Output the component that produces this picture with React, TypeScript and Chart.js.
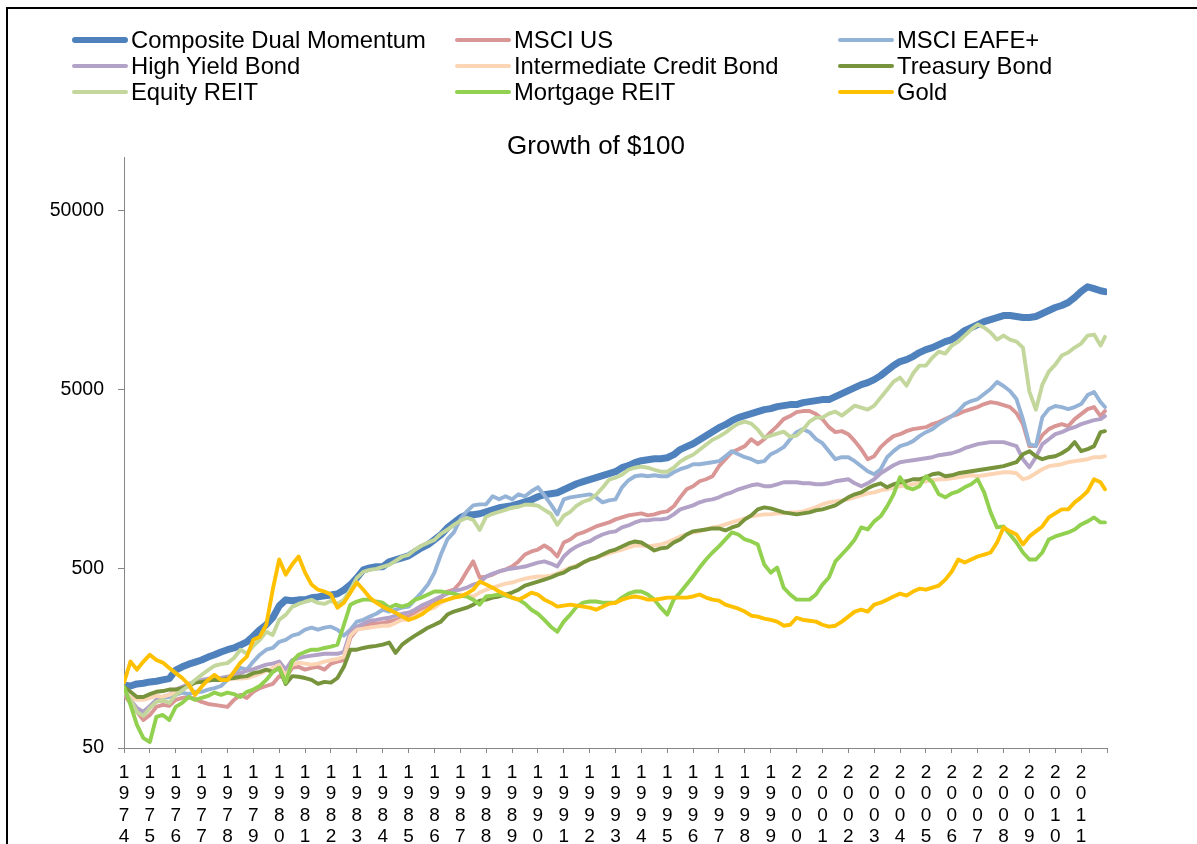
import React, { useEffect, useRef } from 'react';
import { Chart, registerables } from 'chart.js';

Chart.register(...registerables);

// ---- categories / ticks ----
const YEARS = [
  1974, 1975, 1976, 1977, 1978, 1979, 1980, 1981, 1982, 1983, 1984, 1985, 1986,
  1987, 1988, 1989, 1990, 1991, 1992, 1993, 1994, 1995, 1996, 1997, 1998, 1999,
  2000, 2001, 2002, 2003, 2004, 2005, 2006, 2007, 2008, 2009, 2010, 2011,
];
const QUARTERS = [0, 0.25, 0.5, 0.75];
const FINAL_MONTH = 2011.92;
const DATES: number[] = [...YEARS.flatMap((y) => QUARTERS.map((q) => y + q)), FINAL_MONTH];
const X_TICKS = [...YEARS, 2012];
const Y_TICKS = [50, 500, 5000, 50000];

// ---- series values (growth of $100, quarterly, plus Dec 2011) ----
const COMPOSITE = [
  112, 111, 114, 115, 117, 118, 120, 122, 136, 142, 147, 151, 155, 161, 166, 172,
  177, 181, 188, 196, 211, 229, 244, 267, 311, 336, 332, 336, 336, 345, 349, 354,
  358, 363, 382, 408, 446, 494, 507, 514, 514, 548, 563, 577, 592, 624, 656, 683,
  728, 776, 849, 906, 966, 1004, 1004, 1017, 1043, 1071, 1099, 1113, 1128, 1157, 1187, 1218,
  1266, 1299, 1316, 1333, 1385, 1440, 1496, 1536, 1576, 1617, 1659, 1702, 1747, 1839, 1887, 1961,
  2012, 2038, 2065, 2065, 2091, 2175, 2321, 2410, 2504, 2637, 2776, 2923, 3078, 3198, 3367, 3500,
  3592, 3686, 3783, 3881, 3931, 4033, 4086, 4139, 4139, 4246, 4302, 4358, 4414, 4414, 4588, 4768,
  4956, 5151, 5354, 5494, 5710, 6011, 6412, 6839, 7200, 7389, 7678, 8084, 8401, 8621, 8960, 9315,
  9557, 10062, 10730, 11153, 11590, 12047, 12362, 12685, 13017, 13017, 12850, 12685,
  12685, 12850, 13357, 13883, 14428, 14805, 15389, 16411, 17730, 18850, 18400, 17900,
  17700,
];
const MSCI_US = [
  99.0, 89.3, 79.6, 71.7, 76.5, 84.8, 87.0, 85.9, 92.8, 95.2, 96.4, 94.0, 90.5, 88.1, 87.0, 85.9,
  84.8, 92.8, 99.0, 95.2, 103, 108, 111, 114, 126, 123, 140, 142, 137, 140, 142, 137,
  148, 152, 155, 206, 229, 241, 247, 247, 250, 254, 260, 267, 271, 281, 296, 308,
  320, 346, 374, 383, 420, 484, 551, 448, 453, 465, 484, 496, 516, 551, 602, 626,
  642, 676, 642, 587, 703, 731, 779, 800, 831, 864, 887, 910, 946, 970, 996, 1009,
  1022, 996, 1009, 1035, 1049, 1119, 1256, 1393, 1449, 1545, 1585, 1647, 1875, 2051, 2244, 2333,
  2427, 2654, 2489, 2654, 2905, 3140, 3435, 3572, 3759, 3810, 3810, 3664, 3435, 3098, 2905, 2944,
  2831, 2588, 2333, 2051, 2132, 2394, 2588, 2760, 2831, 2944, 3020, 3059, 3098, 3221, 3305, 3435,
  3572, 3664, 3810, 3908, 4010, 4169, 4277, 4223, 4115, 4010, 3712, 3221, 2427, 2427, 2794, 3020,
  3140, 3221, 3140, 3435, 3664, 3908, 4010, 3572,
  3810,
];
const MSCI_EAFE = [
  102, 92.8, 81.6, 79.6, 84.8, 92.8, 95.2, 96.4, 99.0, 102, 100, 103, 103, 106, 108, 111,
  120, 128, 140, 137, 152, 166, 177, 181, 196, 201, 212, 217, 229, 235, 229, 235,
  238, 229, 212, 229, 254, 260, 271, 281, 296, 289, 296, 304, 308, 337, 369, 409,
  477, 602, 731, 800, 946, 1049, 1133, 1148, 1148, 1273, 1224, 1273, 1224, 1306, 1273, 1358,
  1429, 1289, 1148, 1009, 1224, 1256, 1273, 1289, 1306, 1256, 1178, 1208, 1224, 1429, 1564, 1647,
  1668, 1647, 1668, 1647, 1647, 1734, 1803, 1850, 1923, 1923, 1948, 1973, 2000, 2132, 2275, 2187,
  2104, 2051, 1973, 2000, 2187, 2275, 2394, 2654, 2905, 3020, 2905, 2654, 2521, 2275, 2051, 2104,
  2104, 2000, 1875, 1758, 1690, 1803, 2104, 2275, 2427, 2489, 2588, 2760, 2905, 3020, 3221, 3390,
  3572, 3810, 4169, 4335, 4446, 4742, 5058, 5535, 5260, 4932, 4446, 3435, 2489, 2427, 3524, 3908,
  4065, 4010, 3908, 4010, 4169, 4680, 4865, 4277,
  4010,
];
const HIGH_YIELD = [
  102, 92.8, 83.7, 79.6, 85.9, 92.8, 96.4, 99.0, 106, 110, 114, 117, 120, 122, 123, 123,
  125, 128, 131, 135, 138, 142, 146, 148, 152, 137, 155, 159, 162, 164, 166, 168,
  168, 168, 172, 223, 238, 247, 257, 260, 264, 267, 274, 281, 285, 296, 312, 324,
  337, 351, 364, 378, 383, 393, 409, 420, 454, 471, 484, 496, 503, 509, 516, 529,
  543, 551, 536, 516, 587, 634, 668, 694, 712, 750, 779, 800, 811, 853, 875, 910,
  934, 934, 946, 946, 958, 1009, 1076, 1104, 1133, 1178, 1208, 1224, 1256, 1306, 1340, 1393,
  1429, 1467, 1486, 1449, 1449, 1486, 1525, 1525, 1525, 1505, 1505, 1486, 1486, 1505, 1545, 1564,
  1585, 1505, 1449, 1505, 1585, 1712, 1803, 1898, 1973, 2000, 2024, 2051, 2078, 2104, 2159, 2187,
  2215, 2275, 2363, 2427, 2489, 2521, 2554, 2554, 2554, 2489, 2427, 2051, 1850, 2104, 2489, 2654,
  2831, 2905, 3020, 3098, 3221, 3305, 3390, 3435,
  3572,
];
const INTERMEDIATE_CREDIT = [
  103, 96.4, 92.8, 92.8, 95.2, 97.7, 96.4, 99.0, 103, 107, 111, 116, 117, 119, 120, 120,
  120, 122, 122, 123, 126, 130, 135, 140, 146, 126, 146, 150, 148, 146, 148, 152,
  155, 157, 162, 212, 229, 232, 235, 238, 241, 241, 250, 260, 260, 271, 285, 296,
  304, 324, 337, 346, 360, 355, 351, 369, 383, 393, 404, 414, 420, 431, 442, 448,
  454, 454, 459, 471, 490, 509, 522, 543, 565, 579, 594, 610, 626, 642, 659, 676,
  676, 668, 676, 685, 703, 731, 760, 779, 800, 811, 831, 853, 864, 887, 910, 934,
  958, 984, 996, 1009, 1009, 1022, 1022, 1035, 1035, 1049, 1076, 1104, 1148, 1178, 1193, 1208,
  1224, 1256, 1289, 1323, 1340, 1375, 1393, 1429, 1449, 1467, 1486, 1525, 1545, 1564, 1585, 1585,
  1606, 1626, 1647, 1668, 1647, 1668, 1690, 1712, 1734, 1734, 1712, 1585, 1626, 1712, 1803, 1875,
  1898, 1923, 1973, 2000, 2024, 2051, 2104, 2104,
  2132,
];
const TREASURY = [
  110, 103, 96.4, 96.4, 100, 103, 104, 106, 106, 108, 111, 116, 117, 119, 120, 120,
  122, 123, 125, 126, 131, 133, 137, 133, 140, 114, 126, 125, 123, 120, 114, 117,
  116, 123, 142, 177, 177, 181, 184, 186, 189, 194, 170, 189, 201, 212, 223, 235,
  244, 254, 278, 289, 296, 304, 316, 333, 337, 346, 351, 360, 369, 383, 404, 414,
  425, 436, 448, 465, 477, 503, 516, 543, 565, 579, 602, 626, 642, 668, 694, 712,
  703, 668, 634, 651, 659, 703, 731, 779, 811, 821, 831, 842, 842, 821, 853, 875,
  946, 996, 1076, 1104, 1090, 1062, 1035, 1022, 1009, 1022, 1035, 1062, 1076, 1104, 1133, 1193,
  1256, 1306, 1340, 1411, 1467, 1505, 1429, 1486, 1525, 1545, 1585, 1585, 1626, 1690, 1712, 1647,
  1668, 1712, 1734, 1758, 1780, 1803, 1826, 1850, 1875, 1923, 1973, 2187, 2275, 2132, 2051, 2104,
  2132, 2215, 2333, 2554, 2275, 2333, 2427, 2905,
  2944,
];
const EQUITY_REIT = [
  105, 93, 79.5, 75.5, 83.7, 90.4, 92.7, 89.2, 98.9, 105, 111, 120, 128, 136, 144, 147,
  149, 159, 177, 168, 186, 201, 223, 214, 260, 277, 307, 319, 328, 336, 323, 319,
  332, 319, 336, 382, 446, 482, 494, 501, 514, 527, 555, 585, 600, 640, 674, 700,
  727, 786, 828, 882, 929, 966, 941, 827, 979, 1017, 1043, 1070, 1099, 1113, 1142, 1142,
  1128, 1070, 1017, 882, 991, 1043, 1128, 1187, 1218, 1299, 1421, 1575, 1617, 1680, 1791, 1839,
  1863, 1839, 1791, 1746, 1746, 1839, 1987, 2091, 2173, 2318, 2472, 2636, 2741, 2886, 3078, 3241,
  3326, 3241, 2999, 2706, 2776, 2849, 2924, 2741, 2776, 2999, 3326, 3500, 3500, 3686, 3783, 3592,
  3831, 4085, 3981, 3880, 4085, 4529, 5018, 5565, 5859, 5285, 6169, 6837, 6837, 7579, 8189, 7981,
  8845, 9315, 10060, 10866, 11588, 11153, 10458, 9554, 10060, 9554, 9315, 8621, 4893, 3880, 5352, 6330,
  6924, 7776, 8084, 8621, 9078, 10060, 10191, 8845,
  9890,
];
const MORTGAGE_REIT = [
  110, 87.0, 67.3, 56.8, 54.0, 74.6, 76.5, 71.7, 84.8, 89.3, 96.4, 92.8, 95.2, 97.7, 102, 99.0,
  102, 100, 96.4, 103, 106, 111, 120, 133, 140, 116, 152, 166, 172, 177, 177, 181,
  184, 189, 244, 316, 329, 337, 337, 329, 324, 304, 316, 308, 316, 337, 346, 360,
  374, 374, 369, 364, 355, 351, 337, 316, 351, 355, 360, 355, 346, 337, 320, 296,
  281, 260, 238, 223, 254, 278, 308, 324, 329, 329, 324, 324, 324, 346, 364, 374,
  374, 360, 337, 304, 278, 337, 369, 409, 454, 509, 565, 618, 668, 731, 800, 779,
  731, 712, 685, 529, 477, 509, 393, 360, 337, 337, 337, 360, 409, 448, 551, 602,
  659, 731, 853, 831, 922, 984, 1119, 1306, 1626, 1429, 1393, 1449, 1647, 1525, 1306, 1256,
  1323, 1358, 1429, 1486, 1585, 1340, 1035, 853, 864, 779, 703, 618, 565, 565, 618, 731,
  760, 779, 800, 831, 887, 922, 970, 910,
  910,
];
const GOLD = [
  116, 152, 137, 152, 166, 155, 150, 140, 131, 123, 113, 99.0, 110, 120, 128, 120,
  120, 133, 150, 162, 201, 209, 244, 383, 565, 465, 529, 587, 477, 409, 383, 374,
  360, 304, 324, 369, 420, 383, 346, 324, 308, 296, 285, 271, 260, 267, 278, 296,
  316, 329, 337, 346, 351, 364, 383, 425, 409, 393, 374, 360, 346, 337, 351, 369,
  360, 337, 324, 308, 312, 316, 312, 308, 304, 296, 308, 320, 324, 337, 346, 351,
  346, 337, 337, 341, 346, 346, 346, 346, 351, 360, 346, 337, 333, 316, 308, 300,
  289, 274, 271, 264, 260, 254, 241, 244, 267, 260, 257, 254, 244, 238, 241, 254,
  271, 289, 296, 289, 316, 324, 337, 351, 364, 355, 374, 388, 383, 393, 404, 436,
  484, 565, 543, 565, 587, 602, 618, 703, 853, 811, 779, 685, 760, 811, 864, 970,
  1022, 1076, 1076, 1178, 1256, 1358, 1585, 1525,
  1393,
];

const SERIES_LABELS = [
  'Composite Dual Momentum', 'MSCI US', 'MSCI EAFE+',
  'High Yield Bond', 'Intermediate Credit Bond', 'Treasury Bond',
  'Equity REIT', 'Mortgage REIT', 'Gold',
];
const SERIES_DATA = [
  COMPOSITE, MSCI_US, MSCI_EAFE,
  HIGH_YIELD, INTERMEDIATE_CREDIT, TREASURY,
  EQUITY_REIT, MORTGAGE_REIT, GOLD,
];

// ---- styles ----
const COLORS = [
  '#4F81BD', '#D99694', '#95B3D7',
  '#B3A2C7', '#FCD5B5', '#77933C',
  '#C3D69B', '#92D050', '#FFC000',
];
const LINE_WIDTHS = [7, 3.9, 3.9, 3.9, 3.9, 3.9, 3.9, 3.9, 3.9];
const FONT = '"Liberation Sans", Arial, Helvetica, sans-serif';
const LEGEND_COL_X = [72, 455, 838];
const LEGEND_ROW_Y = [40, 66, 92];

export default function App() {
  const canvasRef = useRef<HTMLCanvasElement | null>(null);

  useEffect(() => {
    const canvas = canvasRef.current;
    if (!canvas) return;
    const n = SERIES_LABELS.length;
    const chart = new Chart(canvas, {
      type: 'line',
      data: {
        datasets: SERIES_LABELS.map((label, i) => ({
          label,
          data: DATES.map((d, k) => ({ x: d, y: SERIES_DATA[i][k] })),
          borderColor: COLORS[i],
          backgroundColor: COLORS[i],
          borderWidth: LINE_WIDTHS[i],
          pointRadius: 0,
          tension: 0,
          fill: false,
          borderJoinStyle: 'round' as const,
          borderCapStyle: 'round' as const,
          order: n - 1 - i,
        })),
      },
      options: {
        responsive: false,
        animation: false,
        devicePixelRatio: 1,
        layout: { padding: { left: 0, right: 90, top: 157, bottom: 0 } },
        plugins: {
          legend: { display: false },
          title: { display: false },
          tooltip: { enabled: false },
        },
        scales: {
          x: {
            type: 'linear',
            min: 1974,
            max: 2012,
            afterFit: (s: any) => { s.height = 96; },
            afterBuildTicks: (s: any) => { s.ticks = X_TICKS.map((v) => ({ value: v })); },
            ticks: {
              autoSkip: false,
              maxRotation: 0,
              minRotation: 0,
              padding: 9,
              color: '#000',
              font: { family: FONT, size: 19, lineHeight: 1.13 },
              callback: (v: any) => (Number(v) === 2012 ? '' : String(v).split('')),
            },
            grid: { drawOnChartArea: false, drawTicks: true, tickLength: 5, color: '#868686' },
            border: { color: '#868686', width: 1 },
          },
          y: {
            type: 'logarithmic',
            min: 50,
            max: 100000,
            afterFit: (s: any) => { s.width = 124; },
            afterBuildTicks: (s: any) => { s.ticks = Y_TICKS.map((v) => ({ value: v })); },
            ticks: {
              padding: 14,
              color: '#000',
              font: { family: FONT, size: 19.5 },
              callback: (v: any) => String(v),
            },
            grid: { drawOnChartArea: false, drawTicks: true, tickLength: 6, color: '#868686' },
            border: { color: '#868686', width: 1 },
          },
        },
      },
    });
    return () => chart.destroy();
  }, []);

  return (
    <div
      style={{
        position: 'fixed', left: 0, top: 0, width: 1197, height: 844,
        overflow: 'hidden', background: '#fff', fontFamily: FONT,
      }}
    >
      <div
        style={{
          position: 'absolute', left: 6, top: 7, width: 1400, height: 1100,
          border: '2px solid #000', boxSizing: 'border-box',
        }}
      />
      <canvas
        ref={canvasRef}
        width={1197}
        height={844}
        style={{ position: 'absolute', left: 0, top: 0, width: 1197, height: 844 }}
      />
      {SERIES_LABELS.map((label, i) => {
        const x = LEGEND_COL_X[i % 3];
        const y = LEGEND_ROW_Y[Math.floor(i / 3)];
        const lw = i === 0 ? 6 : 4;
        return (
          <div
            key={label}
            style={{
              position: 'absolute', left: x, top: y - 13, height: 26,
              display: 'flex', alignItems: 'center', whiteSpace: 'nowrap',
            }}
          >
            <div style={{ width: 56, height: lw, background: COLORS[i], borderRadius: lw / 2 }} />
            <span style={{ marginLeft: 3, fontSize: 23.8, lineHeight: '26px', color: '#000' }}>{label}</span>
          </div>
        );
      })}
      <div
        style={{
          position: 'absolute', left: 0, top: 130, width: 1192, height: 30,
          lineHeight: '30px', textAlign: 'center', fontSize: 26, color: '#000',
        }}
      >
        Growth of $100
      </div>
    </div>
  );
}
